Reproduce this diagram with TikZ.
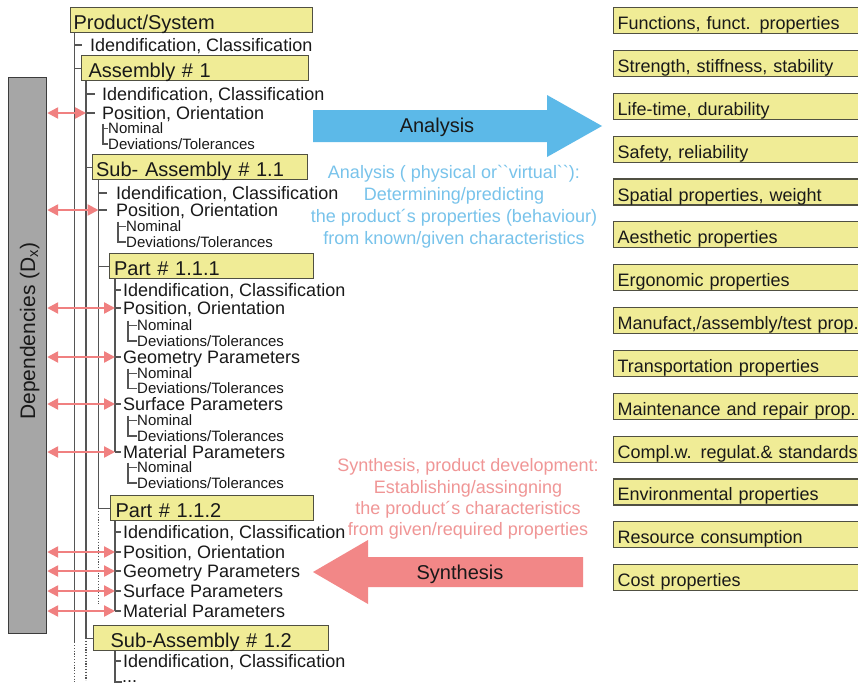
\documentclass[tikz,border=0pt]{standalone}
\usepackage{fontspec}
\setmainfont{Liberation Sans}
\usetikzlibrary{arrows.meta}

\definecolor{ink}{RGB}{25,25,25}
\definecolor{boxfill}{RGB}{240,236,150}
\definecolor{boxline}{RGB}{80,80,66}
\definecolor{treeline}{RGB}{85,85,85}
\definecolor{barfill}{RGB}{166,166,166}
\definecolor{barline}{RGB}{60,60,60}
\definecolor{linkred}{RGB}{240,128,128}
\definecolor{anablue}{RGB}{92,185,232}
\definecolor{anatext}{RGB}{120,195,235}
\definecolor{synred}{RGB}{242,135,135}
\definecolor{syntext}{RGB}{240,150,150}

\begin{document}
\begin{tikzpicture}[x=1pt,y=-1pt,
  title/.style={draw=boxline, line width=1.2pt, fill=boxfill, anchor=north west,
    inner ysep=0pt, minimum height=25pt, text height=18.3pt, text depth=0pt,
    align=left, text=ink, font=\fontsize{20}{22}\selectfont},
  prop/.style={draw=boxline, line width=1.2pt, fill=boxfill, anchor=north west,
    inner xsep=4pt, inner ysep=0pt, minimum height=26pt, text width=270pt,
    text height=18pt, text depth=0pt, align=left, text=ink,
    font=\fontsize{18}{20}\selectfont},
  item/.style={anchor=west, inner sep=0pt, text height=12.9pt, text depth=0pt,
    text=ink, font=\fontsize{18}{20}\selectfont},
  sub/.style={anchor=west, inner sep=0pt, text height=10.8pt, text depth=0pt,
    text=ink, font=\fontsize{15}{17}\selectfont},
  tree/.style={draw=treeline, line width=1.2pt},
  dots/.style={draw=treeline, line width=1.2pt, dash pattern=on 1.2pt off 1.6pt},
  link/.style={draw=linkred, line width=2.4pt,
    {Triangle[length=11pt,width=11pt]}-{Triangle[length=11pt,width=11pt]}},
  desc/.style={anchor=north, align=center, inner sep=0pt},
  label20/.style={inner sep=0pt, text height=14.3pt, text depth=0pt, text=ink,
    font=\fontsize{20}{22}\selectfont}
]
\useasboundingbox (0,0) rectangle (858,686);
\clip (0,0) rectangle (858,686);
\fill[white] (0,0) rectangle (858,686);

% ---------- dependency bar ----------
\node[draw=barline, line width=1.2pt, fill=barfill, anchor=north west, inner sep=0pt,
  minimum width=38pt, minimum height=556pt] (bar) at (8,77) {};
\node[rotate=90, inner sep=0pt, text height=15pt, text depth=0pt, text=ink,
  font=\fontsize{21}{21}\selectfont] (dep) at (27.5,331) {Dependencies (D\textsubscript{x})};

% ---------- product structure tree ----------
\node[title, inner xsep=3pt, text width=236pt] (ps) at (70,7) {Product/System};
\node[item] (ps-id) at (90,45) {Idendification, Classification};
\node[title, inner xsep=7pt, text width=213pt] (as1) at (81,55) {Assembly \# 1};

\node[item] (as1-id) at (102,94) {Idendification, Classification};
\node[item] (as1-po) at (102,113) {Position, Orientation};
\node[sub] (as1-no) at (108,128.5) {Nominal};
\node[sub] (as1-de) at (108,144) {Deviations/Tolerances};
\node[title, inner xsep=3.5pt, text width=208pt] (sa11) at (92,154) {Sub- Assembly \# 1.1};

\node[item] (sa11-id) at (116,193) {Idendification, Classification};
\node[item] (sa11-po) at (116,210) {Position, Orientation};
\node[sub] (sa11-no) at (126,226.5) {Nominal};
\node[sub] (sa11-de) at (126,242) {Deviations/Tolerances};
\node[title, inner xsep=4.5pt, text width=195pt] (p111) at (109,253) {Part \# 1.1.1};

\node[item] (p111-id) at (123,290) {Idendification, Classification};
\node[item] (p111-po) at (123,308) {Position, Orientation};
\node[sub]  (p111-pn) at (137,325.5) {Nominal};
\node[sub]  (p111-pd) at (137,341) {Deviations/Tolerances};
\node[item] (p111-ge) at (123,357) {Geometry Parameters};
\node[sub]  (p111-gn) at (137,373.5) {Nominal};
\node[sub]  (p111-gd) at (137,388.5) {Deviations/Tolerances};
\node[item] (p111-su) at (123,404) {Surface Parameters};
\node[sub]  (p111-sn) at (137,420.5) {Nominal};
\node[sub]  (p111-sd) at (137,436) {Deviations/Tolerances};
\node[item] (p111-ma) at (123,452) {Material Parameters};
\node[sub]  (p111-mn) at (137,467.5) {Nominal};
\node[sub]  (p111-md) at (137,483) {Deviations/Tolerances};

\node[title, inner xsep=5pt, text width=193pt] (p112) at (110,495) {Part \# 1.1.2};
\node[item] (p112-id) at (123,532) {Idendification, Classification};
\node[item] (p112-po) at (123,552) {Position, Orientation};
\node[item] (p112-ge) at (123,571) {Geometry Parameters};
\node[item] (p112-su) at (123,591) {Surface Parameters};
\node[item] (p112-ma) at (123,611) {Material Parameters};

\node[title, inner xsep=17pt, text width=201pt] (sa12) at (93,625) {Sub-Assembly \# 1.2};
\node[item] (sa12-id) at (123,661) {Idendification, Classification};
\node[anchor=base west, inner sep=0pt, text height=3pt, text depth=0pt, text=ink,
  font=\fontsize{18}{20}\selectfont] (sa12-more) at (122,682) {...};

% vertical tree lines
\coordinate (v0) at ([xshift=4.5pt]ps.south west);
\coordinate (v1) at ([xshift=5pt]as1.south west);
\coordinate (v2) at ([xshift=6.5pt]sa11.south west);
\coordinate (v3) at ([xshift=6pt]p111.south west);
\coordinate (v4) at ([xshift=5pt]p112.south west);
\coordinate (v5) at ([xshift=22pt]sa12.south west);

\draw[tree] (v0) -- ([yshift=-609pt]v0);
\draw[dots] ([yshift=-609pt]v0) -- ++(0,40);
\draw[tree] (v0 |- ps-id.west) -- ++(7,0);
\draw[tree] (v0 |- as1.west) -- (as1.west);

\draw[tree] (v1) |- (sa12.west);
\draw[dots] (v1 |- sa12.west) -- ++(0,42);
\draw[tree] (v1 |- sa11.west) -- (sa11.west);
\foreach \n in {as1-id,as1-po} \draw[tree] (v1 |- \n.west) -- ++(9,0);

\draw[tree] (v2) |- (p112.west);
\draw[dots] (v2 |- p112.west) -- ++(0,96);
\draw[tree] (v2 |- p111.west) -- (p111.west);
\foreach \n in {sa11-id,sa11-po} \draw[tree] (v2 |- \n.west) -- ++(8,0);

\draw[tree] (v3) -- (v3 |- p111-ma.west);
\foreach \n in {p111-id,p111-po,p111-ge,p111-su,p111-ma} \draw[tree] (v3 |- \n.west) -- ++(6,0);

\draw[tree] (v4) -- (v4 |- p112-ma.west);
\foreach \n in {p112-id,p112-po,p112-ge,p112-su,p112-ma} \draw[tree] (v4 |- \n.west) -- ++(6,0);

\draw[tree] (v5) |- (sa12-more.base west);
\draw[tree] (v5 |- sa12-id.west) -- ++(6,0);

% nominal / deviation brackets
\foreach \a/\b/\off in {as1-no/as1-de/5, sa11-no/sa11-de/8, p111-pn/p111-pd/9,
    p111-gn/p111-gd/9, p111-sn/p111-sd/9, p111-mn/p111-md/9} {
  \draw[tree] ([xshift=-\off pt, yshift=5pt]\a.west) |- (\b.west);
  \draw[tree] ([xshift=-\off pt]\a.west) -- (\a.west);
}

% dependency links
\foreach \n/\v in {as1-po/v1, sa11-po/v2, p111-po/v3, p111-ge/v3, p111-su/v3,
    p111-ma/v3, p112-po/v4, p112-ge/v4, p112-su/v4, p112-ma/v4}
  \draw[link] (bar.east |- \n.west) -- (\v |- \n.west);

% ---------- properties ----------
\foreach \lab [count=\i from 0] in {{Functions, funct. properties},
    {Strength, stiffness, stability},{Life-time, durability},{Safety, reliability},
    {Spatial properties, weight},{Aesthetic properties},{Ergonomic properties},
    {Manufact,/assembly/test prop.},{Transportation properties},
    {Maintenance and repair prop.},{Compl.w. regulat.\& standards},
    {Environmental properties},{Resource consumption},{Cost properties}}
  \node[prop] (prop\i) at (613,{7+42.85*\i}) {\lab};

% ---------- analysis / synthesis ----------
\fill[anablue] (313,110) -- (547,110) -- (547,95) -- (602,126) -- (547,157)
  -- (547,142) -- (313,142) -- cycle;
\node[label20] (ana) at (437,125) {Analysis};
\node[desc, text=anatext, font=\fontsize{18}{22}\selectfont] (anadesc) at (454,165.5)
  {Analysis ( physical or\textasciigrave\textasciigrave virtual\textasciigrave\textasciigrave):\\
   Determining/predicting\\
   the product´s properties (behaviour)\\
   from known/given characteristics};

\fill[synred] (583,557) -- (368,557) -- (368,540) -- (313,572) -- (368,604)
  -- (368,587) -- (583,587) -- cycle;
\node[label20] (syn) at (460,572) {Synthesis};
\node[desc, text=syntext, font=\fontsize{18}{21.3}\selectfont] (syndesc) at (468,458.5)
  {Synthesis, product development:\\
   Establishing/assingning\\
   the product´s characteristics\\
   from given/required properties};
\end{tikzpicture}
\end{document}
